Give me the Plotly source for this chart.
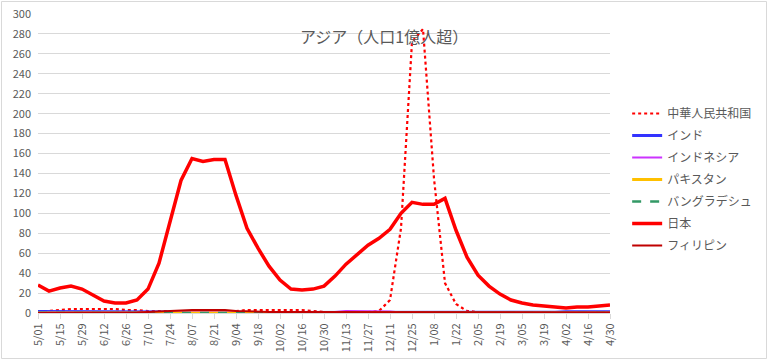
import plotly.graph_objects as go

weeks = ["5/01","5/08","5/15","5/22","5/29","6/05","6/12","6/19","6/26","7/03",
         "7/10","7/17","7/24","7/31","8/07","8/14","8/21","8/28","9/04","9/11",
         "9/18","9/25","10/02","10/09","10/16","10/23","10/30","11/06","11/13","11/20",
         "11/27","12/04","12/11","12/18","12/25","1/01","1/08","1/15","1/22","1/29",
         "2/05","2/12","2/19","2/26","3/05","3/12","3/19","3/26","4/02","4/09",
         "4/16","4/23","4/30"]

tick_labels = ["5/01","5/15","5/29","6/12","6/26","7/10","7/24","8/07","8/21","9/04",
               "9/18","10/02","10/16","10/30","11/13","11/27","12/11","12/25","1/08","1/22",
               "2/05","2/19","3/05","3/19","4/02","4/16","4/30"]

chart_title = "アジア（人口1億人超）"

china = [1,2,3,4,4,4,4,4,3,3,2,2,2,2,2,2,2,2,2,3,3,3,3,3,3,2,1,1,1,1,1,2,13,85,272,285,
         135,30,9,2,1,1,1,1,1,1,1,0,0,0,0,0,0]
india = [1.5,1.5,1.5,1.5,1.2,1,1,1,0.8,0.8,0.8,0.8,0.8,0.8,0.8,0.8,0.8,0.8,0.8,0.6,0.6,0.5,0.5,
         0.5,0.5,0.5,0.5,0.5,0.5,0.5,0.5,0.5,0.5,0.3,0.3,0.3,0.3,0.3,0.3,0.3,0.3,0.3,0.3,0.3,
         0.3,0.5,0.5,0.8,1.2,1.2,1.2,1.2,1.2]
indonesia = [0,0,0,0,0,0,0,0,0,0.5,1,1,1,1,1,1,1,0.8,0.5,0.5,0.5,0.5,0.5,0.5,0.5,0.5,0.5,
             1,2,2,2,2,1.5,0.5,0,0,0,0,0,0,0,0,0,0,0,0,0,0,0,0,0,0,0]
pakistan = [0]*53
bangladesh = [0]*53
japan = [28,22,25,27,24,18,12,10,10,13,24,50,90,133,155,152,154,154,118,85,65,47,33,24,23,
         24,27,37,49,58,68,75,84,100,111,109,109,115,83,56,38,27,19,13,10,8,7,6,5,6,6,7,8]
philippines = [0,0,0,0,0,0,0,0,0,0.5,1,1.5,2.5,3,3,3,3,3,2,1.5,1,1,1,1,1,1,1,1,1,1,1,1,
               1,0.5,0.5,0.5,0.5,0.5,0.5,0.5,0.5,0.5,0.5,0.5,0.5,0.5,0.5,0.5,0.5,0.5,0.5,0.5,0.5]

series = [
    ("中華人民共和国", china, "#FF0000", 2.2, "dot"),
    ("インド", india, "#3333FF", 3, "solid"),
    ("インドネシア", indonesia, "#CC33FF", 2, "solid"),
    ("パキスタン", pakistan, "#FFC000", 3, "solid"),
    ("バングラデシュ", bangladesh, "#339966", 2.5, "dash"),
    ("日本", japan, "#FF0000", 3.5, "solid"),
    ("フィリピン", philippines, "#C00000", 2, "solid"),
]

FONT = "Noto Sans CJK JP, sans-serif"
GRAY = "#595959"

fig = go.Figure()
for i, (name, vals, color, width, dash) in enumerate(series):
    fig.add_trace(go.Scatter(
        x=weeks, y=vals, name=name, mode="lines",
        line=dict(color=color, width=width, dash=dash),
        legendgroup=f"g{i}", hoverinfo="x+y+name",
    ))

L, R, T, B = 38, 158, 14, 47
W, H = 768, 360
pw, ph = W - L - R, H - T - B

fig.update_layout(
    width=W, height=H,
    margin=dict(l=L, r=R, t=T, b=B, autoexpand=False),
    paper_bgcolor="white", plot_bgcolor="white",
    font=dict(family=FONT, color=GRAY, size=11),
    legend=dict(x=1.03, xanchor="left", y=(H - B - 99) / ph, yanchor="top",
                font=dict(size=12, color=GRAY, family=FONT),
                tracegroupgap=3, bgcolor="rgba(0,0,0,0)"),
    showlegend=True,
    annotations=[dict(text=chart_title, xref="paper", yref="paper",
                      x=(384 - L) / pw, y=(H - B - 36) / ph,
                      xanchor="center", yanchor="middle", showarrow=False,
                      font=dict(size=16, color=GRAY, family=FONT))],
    shapes=[dict(type="rect", xref="paper", yref="paper",
                 x0=(1.5 - L) / pw, x1=(W - 1.5 - L) / pw,
                 y0=(H - B - (H - 1.5)) / ph, y1=(H - B - 1.5) / ph,
                 line=dict(color="#d9d9d9", width=1), fillcolor="rgba(0,0,0,0)",
                 layer="above")],
)
fig.update_xaxes(
    type="category", categoryorder="array", categoryarray=weeks,
    range=[0, len(weeks) - 1],
    tickmode="array", tickvals=tick_labels, ticktext=tick_labels,
    tickangle=-90, tickfont=dict(size=11, color=GRAY, family=FONT),
    showgrid=False, showline=True, linecolor="#d9d9d9", linewidth=1,
    ticks="outside", ticklen=5, tickcolor="#d9d9d9", zeroline=False,
)
fig.update_yaxes(
    range=[0, 300], dtick=20, tick0=0,
    tickfont=dict(size=11, color=GRAY, family=FONT),
    showgrid=True, gridcolor="#d9d9d9", gridwidth=1,
    showline=False, zeroline=False, ticks="", ticklabelstandoff=6,
)

fig.write_html("out.html", config={"displayModeBar": False},
               post_script="document.body.style.margin='0';document.body.style.overflow='hidden';")
